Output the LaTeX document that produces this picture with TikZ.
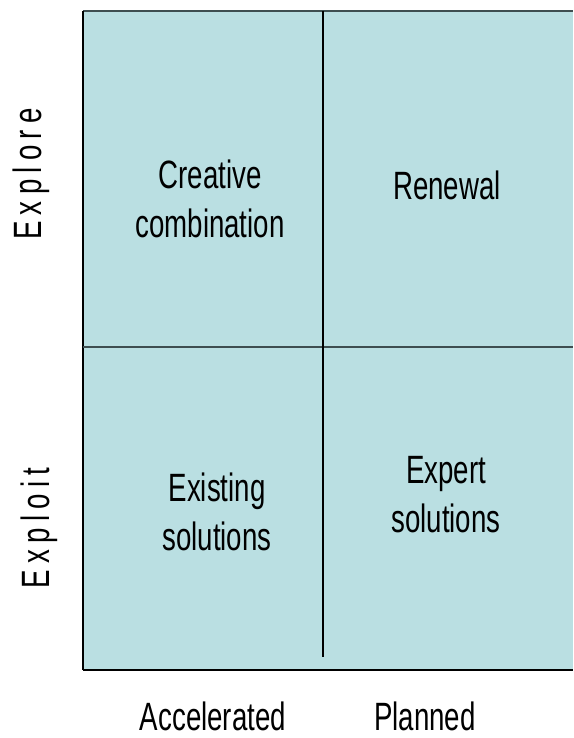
\documentclass[tikz,border=0pt]{standalone}
\usepackage{fontspec}
\setmainfont{Liberation Sans}[FakeStretch=0.70]
\newfontfamily\spacedfont{Liberation Sans}[FakeStretch=0.70,LetterSpace=16]
\definecolor{cellfill}{HTML}{BADFE2}
\definecolor{rulegray}{HTML}{3E4E50}
\begin{document}
\begin{tikzpicture}[x=1pt,y=-1pt,
  celltext/.style={font=\fontsize{39.5}{49}\selectfont, align=center, inner sep=0pt},
  axistext/.style={font=\fontsize{39.5}{49}\selectfont, inner sep=0pt, anchor=base},
  sidetext/.style={font=\fontsize{39.5}{49}\spacedfont, inner sep=0pt, rotate=90, anchor=center},
  edge/.style={line width=1.5pt, black},
  divider/.style={line width=2.2pt, rulegray}]
\useasboundingbox (0,0) rectangle (573,738);

% quadrant panel
\coordinate (tl) at (83,11);
\coordinate (tr) at (573,11);
\coordinate (bl) at (83,670);
\coordinate (br) at (573,670);
\fill[cellfill] (tl) rectangle (br);
\draw[divider] (tl) -- (tr);
\draw[edge] (tl) -- (bl);
\draw[edge] (bl) -- (br);

% dividers
\coordinate (ml) at (83,347);
\coordinate (mr) at (573,347);
\draw[divider] (ml) -- (mr);
\coordinate (vt) at (323,11);
\coordinate (vb) at (323,657);
\draw[edge] (vt) -- (vb);

% quadrant labels
\node[celltext] (creative) at (210,198.5) {Creative\\combination};
\node[axistext] (renewal) at (447,200) {Renewal};
\node[celltext] (existing) at (217,512) {Existing\\solutions};
\node[celltext] (expert) at (446,495) {Expert\\solutions};

% axis labels
\node[axistext] (accel) at (213,730.5) {Accelerated};
\node[axistext] (planned) at (425,730.5) {Planned};
\node[sidetext] (explore) at (31,174) {Explore};
\node[sidetext] (exploit) at (39,528) {Exploit};
\end{tikzpicture}
\end{document}
